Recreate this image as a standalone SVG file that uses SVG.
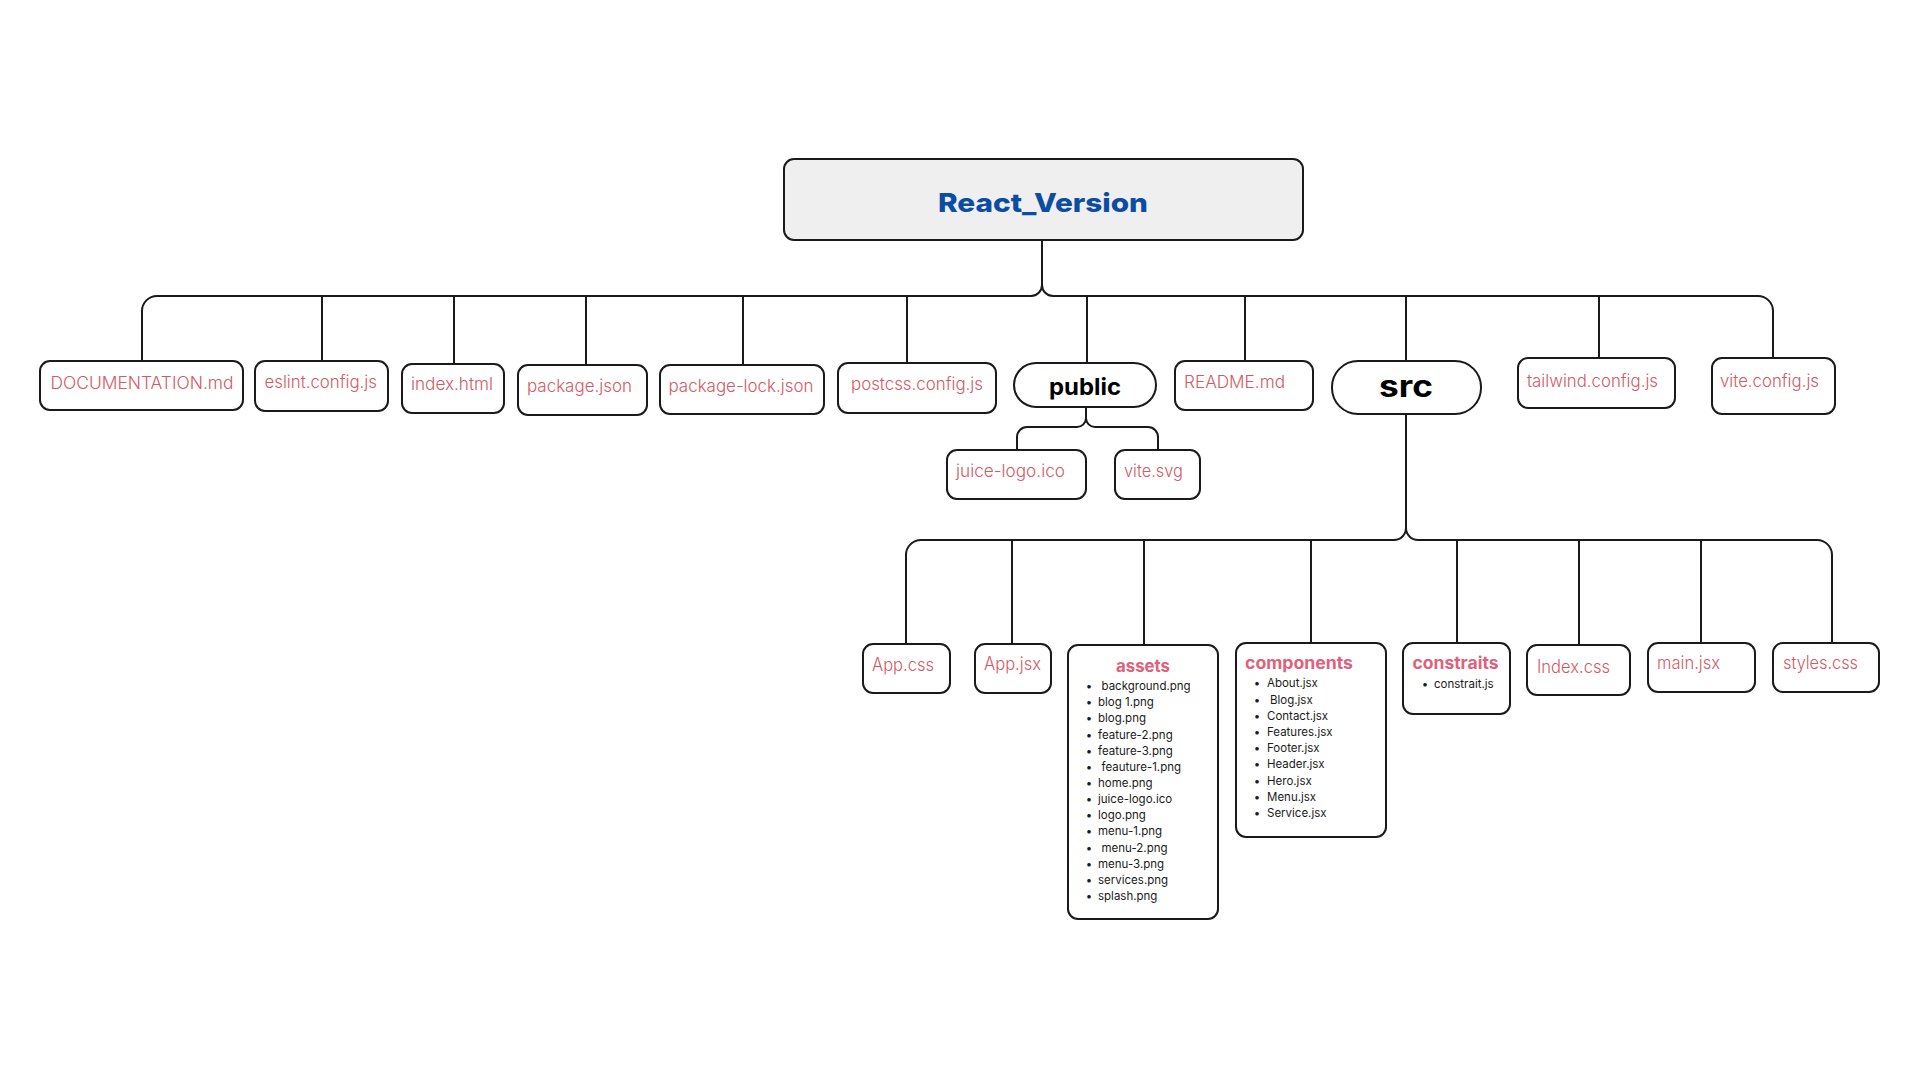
<svg xmlns="http://www.w3.org/2000/svg" width="1920" height="1080" viewBox="0 0 1920 1080">
<style>
.box{fill:#fff;stroke:#1a1a1a;stroke-width:2}
.root{fill:#efefef;stroke:#1a1a1a;stroke-width:2}
.ln{fill:none;stroke:#1a1a1a;stroke-width:2;stroke-linejoin:round}
.lbl{font-family:Inter,"Liberation Sans",sans-serif;font-size:17px;font-weight:300;fill:#d25a66}
.lbl2{font-family:Inter,"Liberation Sans",sans-serif;font-size:18px;font-weight:300;fill:#d25a66}
.ttl{font-family:Inter,"Liberation Sans",sans-serif;font-size:17px;font-weight:700;fill:#e0607b}
.dir{font-family:Inter,"Liberation Sans",sans-serif;font-weight:700;fill:#000}
.li{font-family:Inter,"Liberation Sans",sans-serif;font-size:11.5px;fill:#1a1a1a}
.head{font-family:Inter,"Open Sans","Liberation Sans",sans-serif;font-size:26px;font-weight:800;fill:#0a4da2}
</style>
<rect width="1920" height="1080" fill="#fff"/>
<g id="connectors">
<path class="ln" d="M1042,240 V285"/>
<path class="ln" d="M142,361 V311 A15,15 0 0 1 157,296 H1031 A11,11 0 0 0 1042,285 A11,11 0 0 0 1053,296 H1758 A15,15 0 0 1 1773,311 V358"/>
<path class="ln" d="M322,296 V361 M454,296 V364 M586,296 V365 M743,296 V365 M907,296 V363 M1087,296 V363 M1245,296 V361 M1406,296 V361 M1599,296 V358"/>
<path class="ln" d="M1086,407 V418 A9,9 0 0 1 1077,427 H1027 A10,10 0 0 0 1017,437 V450 M1086,418 A9,9 0 0 0 1095,427 H1148 A10,10 0 0 1 1158,437 V450"/>
<path class="ln" d="M1406,414 V528 A12,12 0 0 1 1394,540 H921 A15,15 0 0 0 906,555 V644 M1406,528 A12,12 0 0 0 1418,540 H1817 A15,15 0 0 1 1832,555 V643"/>
<path class="ln" d="M1012,540 V644 M1144,540 V645 M1311,540 V643 M1457,540 V643 M1579,540 V645 M1701,540 V643"/>
</g>
<g id="root"><rect class="root" x="784" y="159" width="519" height="81" rx="10"/><text class="head" x="1043" y="212" text-anchor="middle" textLength="210" lengthAdjust="spacingAndGlyphs">React_Version</text></g>
<g id="documentation"><rect class="box" x="40" y="361" width="203" height="49" rx="10"/><text class="lbl" x="50.5" y="389" textLength="183" lengthAdjust="spacingAndGlyphs">DOCUMENTATION.md</text></g>
<g id="eslint"><rect class="box" x="255" y="361" width="133" height="50" rx="10"/><text class="lbl" x="264.5" y="388" textLength="112.5" lengthAdjust="spacingAndGlyphs">eslint.config.js</text></g>
<g id="index-html"><rect class="box" x="402" y="364" width="102" height="49" rx="10"/><text class="lbl" x="411" y="390" textLength="82" lengthAdjust="spacingAndGlyphs">index.html</text></g>
<g id="package-json"><rect class="box" x="518" y="365" width="129" height="50" rx="10"/><text class="lbl" x="527" y="391.5" textLength="105" lengthAdjust="spacingAndGlyphs">package.json</text></g>
<g id="package-lock"><rect class="box" x="660" y="365" width="164" height="49" rx="10"/><text class="lbl" x="668.5" y="391.5" textLength="145" lengthAdjust="spacingAndGlyphs">package-lock.json</text></g>
<g id="postcss"><rect class="box" x="838" y="363" width="158" height="50" rx="10"/><text class="lbl" x="851" y="390" textLength="132" lengthAdjust="spacingAndGlyphs">postcss.config.js</text></g>
<g id="public"><rect class="box" x="1014" y="363" width="142" height="44" rx="22"/><text class="dir" x="1085" y="395" font-size="23" text-anchor="middle" textLength="72" lengthAdjust="spacingAndGlyphs">public</text></g>
<g id="readme"><rect class="box" x="1175" y="361" width="138" height="49" rx="10"/><text class="lbl" x="1184" y="388" textLength="101" lengthAdjust="spacingAndGlyphs">README.md</text></g>
<g id="src"><rect class="box" x="1332" y="361" width="149" height="53" rx="26"/><text class="dir" x="1406" y="396.5" font-size="30" text-anchor="middle" textLength="54" lengthAdjust="spacingAndGlyphs">src</text></g>
<g id="tailwind"><rect class="box" x="1518" y="358" width="157" height="50" rx="10"/><text class="lbl" x="1527" y="386.5" textLength="131" lengthAdjust="spacingAndGlyphs">tailwind.config.js</text></g>
<g id="vite-config"><rect class="box" x="1712" y="358" width="123" height="56" rx="10"/><text class="lbl" x="1720" y="387" textLength="99" lengthAdjust="spacingAndGlyphs">vite.config.js</text></g>
<g id="juice-logo"><rect class="box" x="947" y="450" width="139" height="49" rx="10"/><text class="lbl" x="956" y="477" textLength="109" lengthAdjust="spacingAndGlyphs">juice-logo.ico</text></g>
<g id="vite-svg"><rect class="box" x="1115" y="450" width="85" height="49" rx="10"/><text class="lbl" x="1124" y="477" textLength="59" lengthAdjust="spacingAndGlyphs">vite.svg</text></g>
<g id="app-css"><rect class="box" x="863" y="644" width="87" height="49" rx="10"/><text class="lbl2" x="872" y="670.5" textLength="62" lengthAdjust="spacingAndGlyphs">App.css</text></g>
<g id="app-jsx"><rect class="box" x="975" y="644" width="76" height="49" rx="10"/><text class="lbl2" x="984" y="670" textLength="57" lengthAdjust="spacingAndGlyphs">App.jsx</text></g>
<g id="assets"><rect class="box" x="1068" y="645" width="150" height="274" rx="10"/><text class="ttl" x="1143" y="671.5" text-anchor="middle" textLength="54" lengthAdjust="spacingAndGlyphs">assets</text>
<text class="li"><tspan x="1089" y="690" text-anchor="middle">•</tspan><tspan x="1101.5" y="690">background.png</tspan></text>
<text class="li"><tspan x="1089" y="706.2" text-anchor="middle">•</tspan><tspan x="1098" y="706.2">blog 1.png</tspan></text>
<text class="li"><tspan x="1089" y="722.3" text-anchor="middle">•</tspan><tspan x="1098" y="722.3">blog.png</tspan></text>
<text class="li"><tspan x="1089" y="738.5" text-anchor="middle">•</tspan><tspan x="1098" y="738.5">feature-2.png</tspan></text>
<text class="li"><tspan x="1089" y="754.6" text-anchor="middle">•</tspan><tspan x="1098" y="754.6">feature-3.png</tspan></text>
<text class="li"><tspan x="1089" y="770.8" text-anchor="middle">•</tspan><tspan x="1101.5" y="770.8">feauture-1.png</tspan></text>
<text class="li"><tspan x="1089" y="786.9" text-anchor="middle">•</tspan><tspan x="1098" y="786.9">home.png</tspan></text>
<text class="li"><tspan x="1089" y="803.1" text-anchor="middle">•</tspan><tspan x="1098" y="803.1">juice-logo.ico</tspan></text>
<text class="li"><tspan x="1089" y="819.2" text-anchor="middle">•</tspan><tspan x="1098" y="819.2">logo.png</tspan></text>
<text class="li"><tspan x="1089" y="835.4" text-anchor="middle">•</tspan><tspan x="1098" y="835.4">menu-1.png</tspan></text>
<text class="li"><tspan x="1089" y="851.5" text-anchor="middle">•</tspan><tspan x="1101.5" y="851.5">menu-2.png</tspan></text>
<text class="li"><tspan x="1089" y="867.7" text-anchor="middle">•</tspan><tspan x="1098" y="867.7">menu-3.png</tspan></text>
<text class="li"><tspan x="1089" y="883.8" text-anchor="middle">•</tspan><tspan x="1098" y="883.8">services.png</tspan></text>
<text class="li"><tspan x="1089" y="900" text-anchor="middle">•</tspan><tspan x="1098" y="900">splash.png</tspan></text>
</g>
<g id="components"><rect class="box" x="1236" y="643" width="150" height="194" rx="10"/><text class="ttl" x="1245" y="669" font-size="17.5" textLength="108" lengthAdjust="spacingAndGlyphs">components</text>
<text class="li"><tspan x="1257" y="687.3" text-anchor="middle">•</tspan><tspan x="1267" y="687.3">About.jsx</tspan></text>
<text class="li"><tspan x="1257" y="703.5" text-anchor="middle">•</tspan><tspan x="1270" y="703.5">Blog.jsx</tspan></text>
<text class="li"><tspan x="1257" y="719.7" text-anchor="middle">•</tspan><tspan x="1267" y="719.7">Contact.jsx</tspan></text>
<text class="li"><tspan x="1257" y="735.9" text-anchor="middle">•</tspan><tspan x="1267" y="735.9">Features.jsx</tspan></text>
<text class="li"><tspan x="1257" y="752.1" text-anchor="middle">•</tspan><tspan x="1267" y="752.1">Footer.jsx</tspan></text>
<text class="li"><tspan x="1257" y="768.3" text-anchor="middle">•</tspan><tspan x="1267" y="768.3">Header.jsx</tspan></text>
<text class="li"><tspan x="1257" y="784.5" text-anchor="middle">•</tspan><tspan x="1267" y="784.5">Hero.jsx</tspan></text>
<text class="li"><tspan x="1257" y="800.7" text-anchor="middle">•</tspan><tspan x="1267" y="800.7">Menu.jsx</tspan></text>
<text class="li"><tspan x="1257" y="816.9" text-anchor="middle">•</tspan><tspan x="1267" y="816.9">Service.jsx</tspan></text>
</g>
<g id="constraits"><rect class="box" x="1403" y="643" width="107" height="71" rx="10"/><text class="ttl" x="1455.5" y="669" font-size="17.5" text-anchor="middle" textLength="86" lengthAdjust="spacingAndGlyphs">constraits</text>
<text class="li"><tspan x="1425" y="688" text-anchor="middle">•</tspan><tspan x="1434" y="688">constrait.js</tspan></text>
</g>
<g id="index-css"><rect class="box" x="1527" y="645" width="103" height="50" rx="10"/><text class="lbl2" x="1537" y="673" textLength="73" lengthAdjust="spacingAndGlyphs">Index.css</text></g>
<g id="main-jsx"><rect class="box" x="1648" y="643" width="107" height="49" rx="10"/><text class="lbl2" x="1657" y="669" textLength="63" lengthAdjust="spacingAndGlyphs">main.jsx</text></g>
<g id="styles-css"><rect class="box" x="1773" y="643" width="106" height="49" rx="10"/><text class="lbl2" x="1783" y="669" textLength="75" lengthAdjust="spacingAndGlyphs">styles.css</text></g>
</svg>
